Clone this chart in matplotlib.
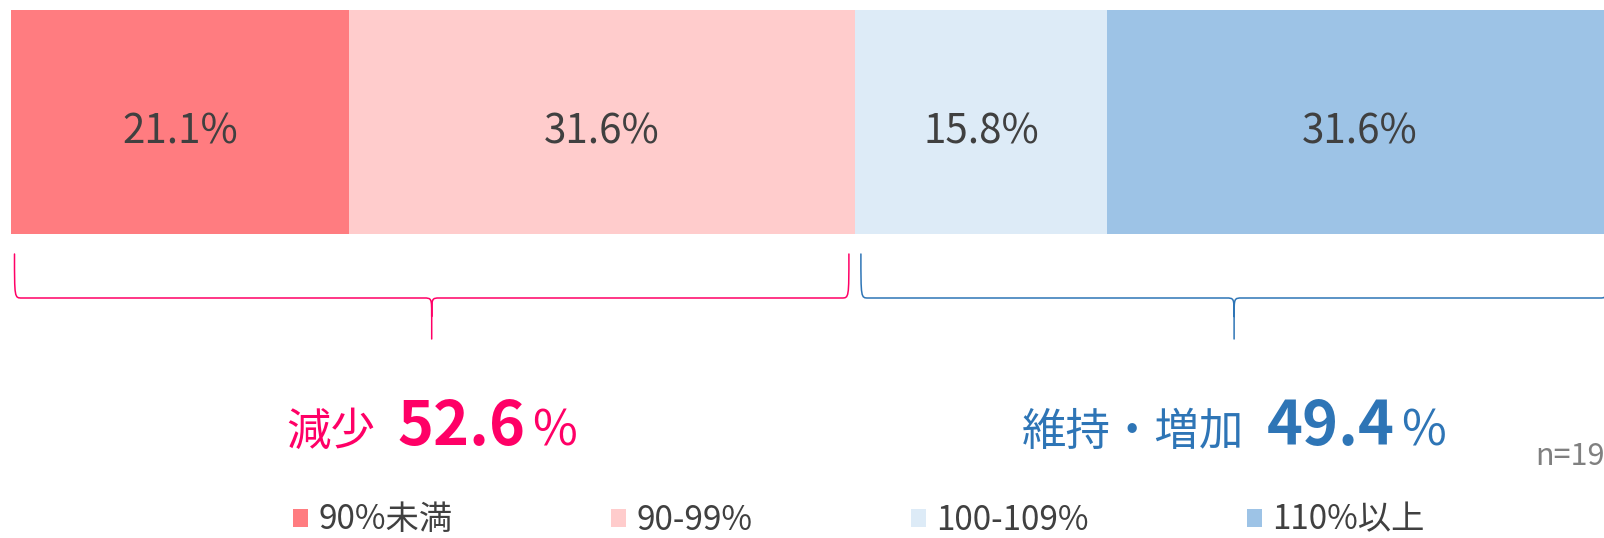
import matplotlib
matplotlib.use("Agg")
import matplotlib.pyplot as plt
import numpy as np
from matplotlib.path import Path
from matplotlib.patches import PathPatch, Patch

plt.rcParams['font.family'] = ['Noto Sans CJK JP', 'DejaVu Sans']

# ---- data ----
categories = ['90%未満', '90-99%', '100-109%', '110%以上']
shares = [21.1, 31.6, 15.8, 31.6]
bar_colors = ['#FF7C80', '#FFCCCC', '#DDEBF7', '#9DC3E6']

groups = ['減少', '維持・増加']
group_members = [[0, 1], [2, 3]]
group_totals = ['52.6', '49.4']
group_colors = ['#FF0066', '#2E75B6']
n_label = 'n=19'

# ---- figure: x in percent, y in pixels (top = 0) ----
W, H = 1604, 538
fig = plt.figure(figsize=(W / 100, H / 100), dpi=100)
left_px = 11.3
px_per_pct = 16.0
ax = fig.add_axes([left_px / W, 0, 1 - left_px / W, 1])
ax.set_xlim(0, (W - left_px) / px_per_pct)
ax.set_ylim(H, 0)
ax.axis('off')

text_gray = '#404040'

# stacked bar
starts = np.concatenate([[0], np.cumsum(shares)[:-1]])
ax.barh([122] * len(shares), shares, left=starts, height=224,
        color=bar_colors, linewidth=0)
for s, w in zip(starts, shares):
    ax.text(s + w / 2, 143, f'{w:.1f}%', ha='center', va='baseline',
            fontsize=29, color=text_gray)


# braces under groups
def brace(x0, x1, color, yt=254, ym=298, yb=339):
    xc = (x0 + x1) / 2
    r = 0.45
    rc = 0.5
    ymid_tip = ym + 0.45 * (yb - ym)
    verts = [(x0, yt),
             (x0, ym), (x0, ym), (x0 + r, ym),
             (xc - rc, ym),
             (xc, ym), (xc, ym), (xc, ymid_tip),
             (xc, yb),
             (xc, ymid_tip),
             (xc, ym), (xc, ym), (xc + rc, ym),
             (x1 - r, ym),
             (x1, ym), (x1, ym), (x1, yt)]
    codes = [Path.MOVETO,
             Path.CURVE4, Path.CURVE4, Path.CURVE4,
             Path.LINETO,
             Path.CURVE4, Path.CURVE4, Path.CURVE4,
             Path.LINETO,
             Path.MOVETO,
             Path.CURVE4, Path.CURVE4, Path.CURVE4,
             Path.LINETO,
             Path.CURVE4, Path.CURVE4, Path.CURVE4]
    ax.add_patch(PathPatch(Path(verts, codes), facecolor='none',
                           edgecolor=color, lw=1.1, capstyle='round'))
    return xc


renderer = fig.canvas.get_renderer()
for name, members, total, col in zip(groups, group_members, group_totals, group_colors):
    g0 = starts[members[0]]
    g1 = starts[members[-1]] + shares[members[-1]]
    xc = brace(g0 + 0.2 if members[0] == 0 else g0 + 0.4, g1 - 0.35, col)

    # label "name  total %" centred under brace tip
    parts = [(name, dict(fontsize=32)),
             (total, dict(fontsize=44, fontweight='bold')),
             ('%', dict(fontsize=35))]
    gaps = [22, 7]
    texts = [ax.text(0, 445, s, color=col, ha='left', va='baseline', **kw)
             for s, kw in parts]
    widths = [t.get_window_extent(renderer).width for t in texts]
    total_w = sum(widths) + sum(gaps)
    x_px = left_px + xc * px_per_pct - total_w / 2
    for i, t in enumerate(texts):
        t.set_x((x_px - left_px) / px_per_pct)
        x_px += widths[i] + (gaps[i] if i < len(gaps) else 0)

ax.text((1535 - left_px) / px_per_pct, 465, n_label, ha='left', va='baseline',
        fontsize=22, color='#808080')

# legend
handles = [Patch(facecolor=c, edgecolor='none') for c in bar_colors]
fig.legend(handles, categories, ncol=4, loc='center left',
           bbox_to_anchor=(293 / W, 1 - 520 / H), frameon=False,
           fontsize=24, labelcolor=text_gray, handlelength=0.46, handleheight=0.46,
           handletextpad=0.3, columnspacing=4.75, borderpad=0, borderaxespad=0)

fig.savefig('out.png', dpi=100)
